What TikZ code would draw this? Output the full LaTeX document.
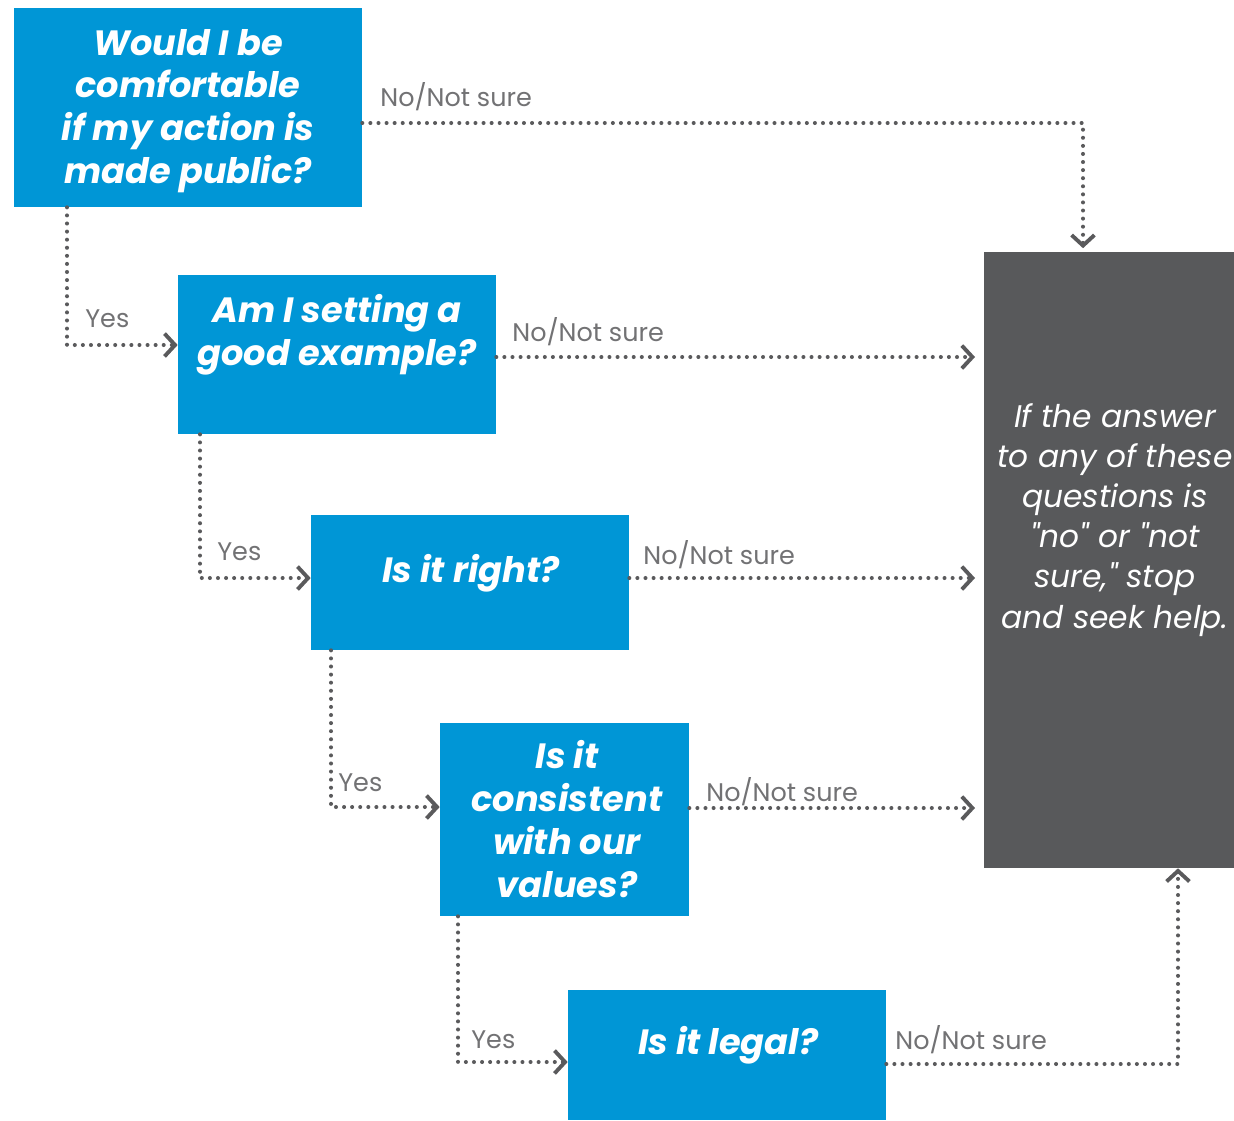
\documentclass[tikz,border=0pt]{standalone}
\usepackage{fontspec}
\setmainfont{Poppins}
\usetikzlibrary{arrows.meta}

\definecolor{qblue}{HTML}{0096D6}
\definecolor{stopgray}{HTML}{58595B}
\definecolor{linegray}{HTML}{5A5A5C}
\definecolor{labelgray}{HTML}{727274}

\begin{document}
\begin{tikzpicture}[x=0.02cm, y=-0.02cm,
    qbox/.style={fill=qblue, inner sep=0pt},
    qtext/.style={text=white, align=center, inner sep=0pt,
        font=\fontsize{20}{24.4}\selectfont\bfseries\itshape},
    flow/.style={draw=linegray, line width=2.3pt, line cap=round,
        dash pattern=on 0pt off 4.6pt,
        -{Straight Barb[length=6pt,width=13pt,line width=2.2pt]}},
    answer/.style={text=labelgray, inner sep=0pt, anchor=west,
        font=\fontsize{14.5}{16}\selectfont}]

    \useasboundingbox (0,0) rectangle (1234,1120);

    % question boxes
    \node [qbox, minimum width=6.96cm, minimum height=3.98cm] (q1) at (188,107.5) {};
    \node [qbox, minimum width=6.36cm, minimum height=3.18cm] (q2) at (337,354.5) {};
    \node [qbox, minimum width=6.36cm, minimum height=2.70cm] (q3) at (470,582.5) {};
    \node [qbox, minimum width=4.98cm, minimum height=3.86cm] (q4) at (564.5,819.5) {};
    \node [qbox, minimum width=6.36cm, minimum height=2.60cm] (q5) at (727,1055) {};
    \node [fill=stopgray, inner sep=0pt, minimum width=5.0cm, minimum height=12.32cm] (stop) at (1109,560) {};

    \node [qtext] (t1) at (188,111) {Would I be\\comfortable\\if my action is\\made public?};
    \node [qtext] (t2) at (337,335) {Am I setting a\\good example?};
    \node [qtext] (t3) at (471,573) {Is it right?};
    \node [qtext] (t4) at (567,819) {Is it\\consistent\\with our\\values?};
    \node [qtext] (t5) at (728,1045) {Is it legal?};
    \node [text=white, align=center, inner sep=0pt,
        font=\fontsize{17.8}{22.8}\selectfont\itshape] (ts) at (1115,520)
        {If the answer\\to any of these\\questions is\\\textquotedbl no\textquotedbl{} or \textquotedbl not\\sure,\textquotedbl{} stop\\and seek help.};

    % corners of the dotted lines
    \coordinate (n1) at (1083,123);
    \coordinate (n2) at (975,357);
    \coordinate (n3) at (975,578);
    \coordinate (n4) at (975,808);
    \coordinate (n5) at (1178,1064);
    \coordinate (y1) at (67,345);
    \coordinate (y2) at (200,578);
    \coordinate (y3) at (331,807);
    \coordinate (y4) at (458,1062);

    % no / not sure
    \draw [flow] (q1.east |- n1) -- (n1) -- ([yshift=2pt]stop.north -| n1);
    \draw [flow] (q2.east |- n2) -- (n2);
    \draw [flow] (q3.east |- n3) -- (n3);
    \draw [flow] (q4.east |- n4) -- (n4);
    \draw [flow] (q5.east |- n5) -- (n5) -- (stop.south -| n5);

    % yes
    \draw [flow] (q1.south -| y1) -- (y1) -- (q2.west |- y1);
    \draw [flow] (q2.south -| y2) -- (y2) -- (q3.west |- y2);
    \draw [flow] (q3.south -| y3) -- (y3) -- (q4.west |- y3);
    \draw [flow] (q4.south -| y4) -- (y4) -- (q5.west |- y4);

    \node [answer] (a1) at (380,97) {No/Not sure};
    \node [answer] (a2) at (512,332) {No/Not sure};
    \node [answer] (a3) at (643,555) {No/Not sure};
    \node [answer] (a4) at (706,792) {No/Not sure};
    \node [answer] (a5) at (895,1040) {No/Not sure};

    \node [answer] (b1) at (85,319) {Yes};
    \node [answer] (b2) at (217,552) {Yes};
    \node [answer] (b3) at (338,783) {Yes};
    \node [answer] (b4) at (471,1040) {Yes};
\end{tikzpicture}
\end{document}
